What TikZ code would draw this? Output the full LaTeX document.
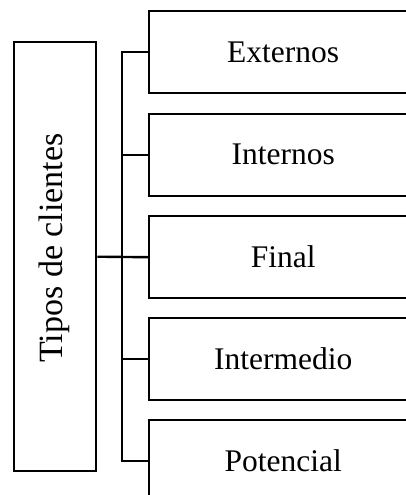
\documentclass[tikz,border=0pt]{standalone}
\usepackage{fontspec}
\setmainfont{Liberation Serif}
\begin{document}
\begin{tikzpicture}[x=1pt,y=-1pt, line width=2.4pt,
  leaf/.style={draw, minimum width=268pt, minimum height=82pt, anchor=north west, inner sep=0pt, font=\fontsize{31.5}{36}\selectfont},
  rootbox/.style={draw, minimum width=82pt, minimum height=429pt, anchor=north west, inner sep=0pt}]
\useasboundingbox (0,0) rectangle (406,495);
\clip (0,0) rectangle (406,495);
\node[rootbox] (root) at (13,41) {};
\node[rotate=90, font=\fontsize{34}{40}\selectfont] (rootlabel) at (54,248) {Tipos de clientes};
\node[leaf] (b1) at (148,10) {Externos};
\node[leaf] (b2) at (148,112.5) {Internos};
\node[leaf] (b3) at (148,215) {Final};
\node[leaf] (b4) at (148,317) {Intermedio};
\node[leaf] (b5) at (148,419) {Potencial};
\coordinate (top) at (122,0 |- b1.west);
\coordinate (bot) at (122,0 |- b5.west);
\draw (b1.west) -- (top) -- (bot) -- (b5.west);
\draw (b2.west) -- (b2.west -| top);
\draw (b4.west) -- (b4.west -| top);
\draw (root.east) -- (b3.west);
\end{tikzpicture}
\end{document}
